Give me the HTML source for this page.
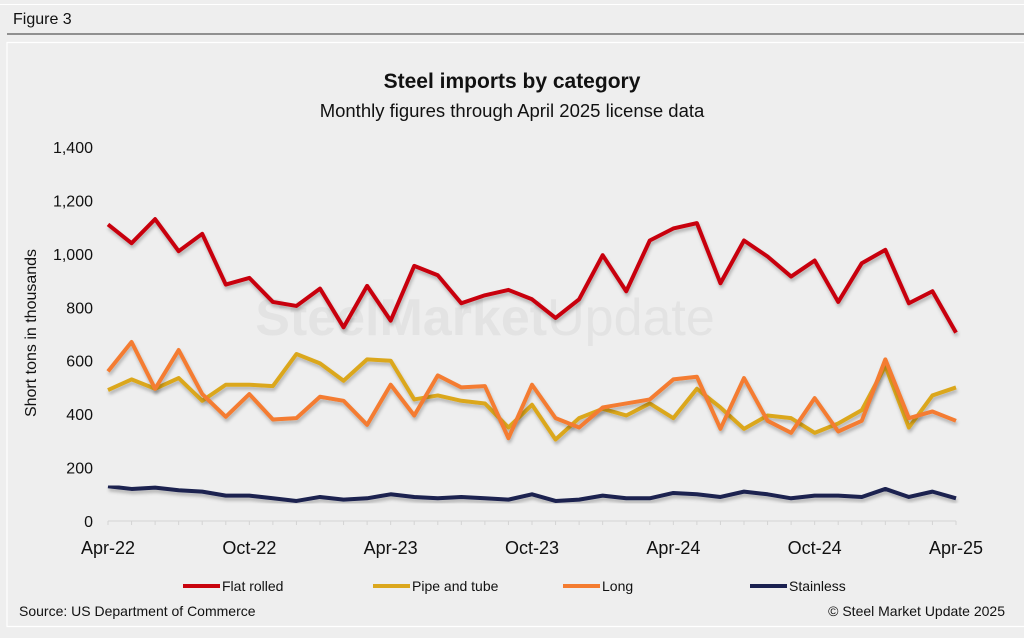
<!DOCTYPE html>
<html><head><meta charset="utf-8"><style>
body{margin:0;background:#eeeeee;width:1024px;height:633px;overflow:hidden;font-family:"Liberation Sans",Arial,sans-serif;}
</style></head><body>
<svg id="c" width="1024" height="633" xmlns="http://www.w3.org/2000/svg">
<defs><filter id="sh" x="-5%" y="-5%" width="110%" height="120%"><feDropShadow dx="1" dy="3" stdDeviation="1.5" flood-color="#000" flood-opacity="0.25"/></filter></defs>
<rect x="0" y="0" width="1024" height="633" fill="#eeeeee"/>
<line x1="0" y1="4.5" x2="1024" y2="4.5" stroke="#fff" stroke-width="1"/>
<text x="13" y="24" font-size="16" fill="#111">Figure 3</text>
<line x1="7" y1="34" x2="1024" y2="34" stroke="#333" stroke-width="1"/>
<rect x="7" y="42.5" width="1030" height="584" fill="none" stroke="#fff" stroke-width="1.2"/>
<text x="512" y="88" font-size="21" font-weight="bold" text-anchor="middle" fill="#111">Steel imports by category</text>
<text x="512" y="117" font-size="18.5" text-anchor="middle" fill="#111">Monthly figures through April 2025 license data</text>
<text x="485" y="335" font-size="52" font-weight="bold" fill="#e3e3e3" text-anchor="middle">SteelMarket<tspan font-weight="normal">Update</tspan></text>
<text transform="translate(36,333) rotate(-90)" font-size="16" text-anchor="middle" fill="#111">Short tons in thousands</text>
<g id="yt"></g><g id="xt"></g><g id="lines"></g><g id="leg"></g>
<text x="19" y="616" font-size="14" fill="#111">Source: US Department of Commerce</text>
<text x="1005" y="616" font-size="14" fill="#111" text-anchor="end">© Steel Market Update 2025</text>
</svg>
<script>
const xLabels=["Apr-22","Oct-22","Apr-23","Oct-23","Apr-24","Oct-24","Apr-25"];
const yTicks=[0,200,400,600,800,1000,1200,1400];
const flatRolled=[1110,1040,1130,1010,1075,885,910,820,805,870,725,880,750,955,920,815,845,865,830,760,830,995,860,1050,1095,1115,890,1050,990,915,975,820,965,1015,815,860,705];
const pipeTube=[490,530,495,535,450,510,510,505,625,590,525,605,600,455,470,450,440,350,435,305,385,420,395,440,385,495,425,345,395,385,330,365,415,580,350,470,500];
const longProd=[560,670,495,640,475,390,475,380,385,465,450,360,510,395,545,500,505,310,510,385,350,425,440,455,530,540,345,535,375,330,460,335,375,605,385,410,375];
const stainless=[130,120,125,115,110,95,95,85,75,90,80,85,100,90,85,90,85,80,100,75,80,95,85,85,105,100,90,110,100,85,95,95,90,120,90,110,85];
const seriesNames=["Flat rolled","Pipe and tube","Long","Stainless"];
const NS="http://www.w3.org/2000/svg";
const x0=108,x1=956,y0=521,y1=147,n=flatRolled.length;
const X=i=>x0+(x1-x0)*i/(n-1);
const Y=v=>y0-(y0-y1)*v/1400;
function mk(t,a,p){const e=document.createElementNS(NS,t);for(const k in a)e.setAttribute(k,a[k]);p.appendChild(e);return e;}
const yt=document.getElementById('yt');
yTicks.forEach(v=>{const t=mk('text',{x:93,y:Y(v)+6,'font-size':16,'text-anchor':'end',fill:'#111'},yt);t.textContent=v.toLocaleString('en-US');

});
const xt=document.getElementById('xt');
const ax=mk('line',{x1:x0,y1:y0,x2:x1,y2:y0,stroke:'#d4d4d4','stroke-width':1},xt);


for(let i=0;i<n;i++){const tk=mk('line',{x1:X(i),y1:y0,x2:X(i),y2:y0+4,stroke:'#d4d4d4','stroke-width':1},xt);

}
xLabels.forEach((l,j)=>{const t=mk('text',{x:X(j*6),y:554,'font-size':18,'text-anchor':'middle',fill:'#111'},xt);t.textContent=l;

});
const cols=["#c8030d","#dba71d","#f47c30","#1a2050"];
const data=[flatRolled,pipeTube,longProd,stainless];
const lg=document.getElementById('lines');
data.forEach((d,s)=>{const p=mk('polyline',{points:d.map((v,i)=>X(i)+','+Y(v)).join(' '),fill:'none',stroke:cols[s],'stroke-width':4,'stroke-linejoin':'round',filter:'url(#sh)'},lg);

});
const leg=document.getElementById('leg');
const lx=[183,373,563,750];
seriesNames.forEach((nm,s)=>{const g=mk('g',{},leg);


mk('line',{x1:lx[s],y1:586,x2:lx[s]+37,y2:586,stroke:cols[s],'stroke-width':4},g);
const t=mk('text',{x:lx[s]+39,y:591,'font-size':14,fill:'#111'},g);t.textContent=nm;});
</script>
</body></html>
